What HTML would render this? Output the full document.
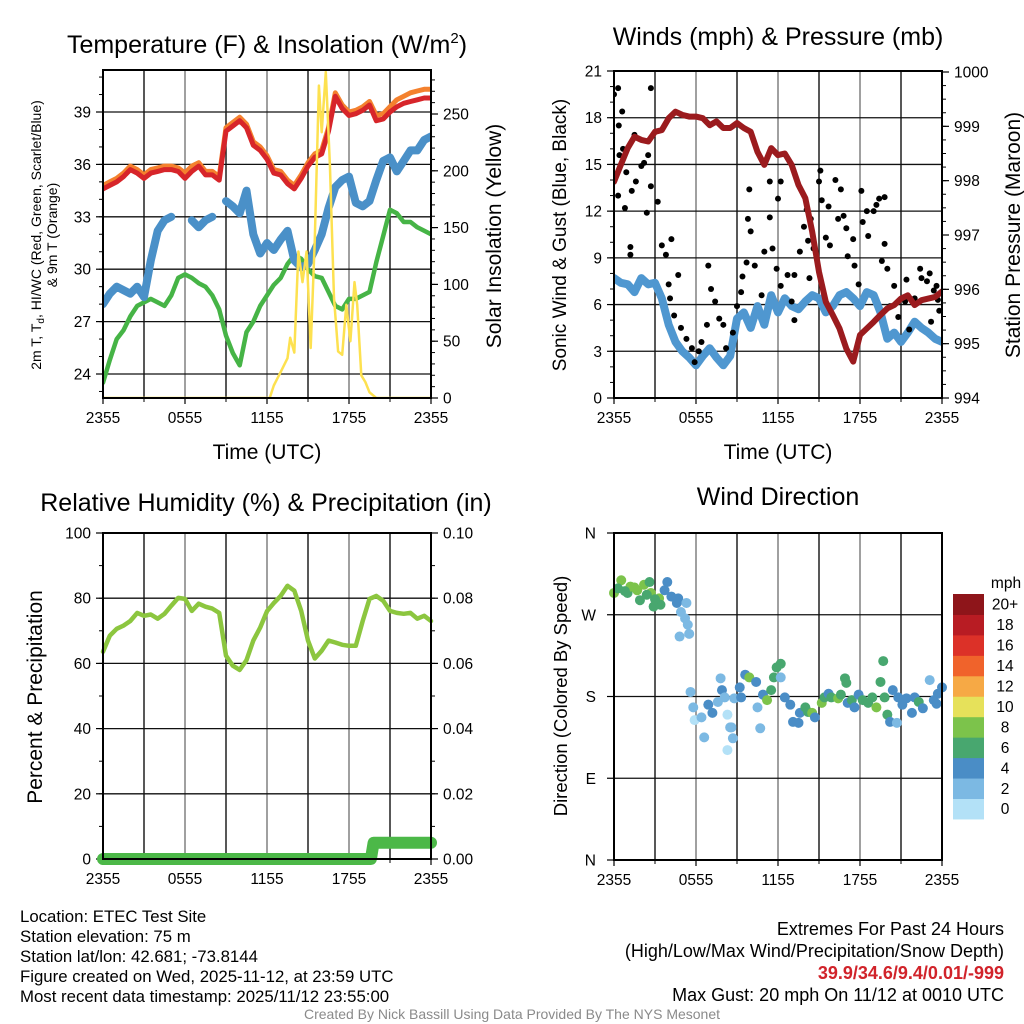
<!DOCTYPE html>
<html><head><meta charset="utf-8">
<style>
html,body{margin:0;padding:0;background:#fff;}
svg{display:block;font-family:"Liberation Sans",Arial,sans-serif;}
</style></head>
<body>
<svg id="fig" width="1024" height="1024" viewBox="0 0 1024 1024" xmlns="http://www.w3.org/2000/svg">
<rect width="1024" height="1024" fill="#fff"/>
<g id="layer"></g>
<text x="267" y="53" font-size="25" text-anchor="middle">Temperature (F) &amp; Insolation (W/m<tspan font-size="15" dy="-10">2</tspan><tspan dy="10">)</tspan></text>
<text x="778" y="45" font-size="25" text-anchor="middle">Winds (mph) &amp; Pressure (mb)</text>
<text x="266" y="511" font-size="25" text-anchor="middle">Relative Humidity (%) &amp; Precipitation (in)</text>
<text x="778" y="505" font-size="25" text-anchor="middle">Wind Direction</text>
<text x="267" y="459" font-size="21" text-anchor="middle">Time (UTC)</text>
<text x="778" y="459" font-size="21" text-anchor="middle">Time (UTC)</text>
<text transform="translate(41,235) rotate(-90)" font-size="14" text-anchor="middle">2m T, T<tspan font-size="10" dy="3">d</tspan><tspan dy="-3">, HI/WC (Red, Green, Scarlet/Blue)</tspan></text>
<text transform="translate(57,235) rotate(-90)" font-size="14" text-anchor="middle">&amp; 9m T (Orange)</text>
<text transform="translate(501,236) rotate(-90)" font-size="21" text-anchor="middle">Solar Insolation (Yellow)</text>
<text transform="translate(566,235) rotate(-90)" font-size="19" text-anchor="middle">Sonic Wind &amp; Gust (Blue, Black)</text>
<text transform="translate(1020,235) rotate(-90)" font-size="21" text-anchor="middle">Station Pressure (Maroon)</text>
<text transform="translate(42,697) rotate(-90)" font-size="21" text-anchor="middle">Percent &amp; Precipitation</text>
<text transform="translate(567,696) rotate(-90)" font-size="18.5" text-anchor="middle">Direction (Colored By Speed)</text>
<g font-size="16.8">
<text x="20" y="922">Location: ETEC Test Site</text>
<text x="20" y="942">Station elevation: 75 m</text>
<text x="20" y="962">Station lat/lon: 42.681; -73.8144</text>
<text x="20" y="982">Figure created on Wed, 2025-11-12, at 23:59 UTC</text>
<text x="20" y="1002">Most recent data timestamp: 2025/11/12 23:55:00</text>
</g>
<g font-size="18" text-anchor="end">
<text x="1004" y="935">Extremes For Past 24 Hours</text>
<text x="1004" y="957">(High/Low/Max Wind/Precipitation/Snow Depth)</text>
<text x="1004" y="979" font-weight="bold" fill="#d1232a">39.9/34.6/9.4/0.01/-999</text>
<text x="1004" y="1001">Max Gust: 20 mph On 11/12 at 0010 UTC</text>
</g>
<text x="512" y="1019" font-size="14" fill="#8a8a8a" text-anchor="middle">Created By Nick Bassill Using Data Provided By The NYS Mesonet</text>
</svg>
<script>
const hours = [0,0.5,1,1.5,2,2.5,3,3.5,4,4.5,5,5.5,6,6.5,7,7.5,8,8.5,9,9.5,10,10.5,11,11.5,12,12.5,13,13.5,14,14.5,15,15.5,16,16.5,17,17.5,18,18.5,19,19.5,20,20.5,21,21.5,22,22.5,23,23.5,24];
const tempRed = [34.6,34.8,35.0,35.3,35.7,35.5,35.2,35.5,35.6,35.7,35.7,35.6,35.2,35.6,35.9,35.4,35.4,35.1,37.9,38.2,38.5,38.1,37.1,36.8,36.3,35.5,35.4,34.9,34.6,35.2,35.9,36.4,36.6,37.9,39.9,39.2,38.8,38.9,39.1,39.4,38.5,38.6,39.0,39.3,39.5,39.6,39.7,39.8,39.8];
const temp9m = [34.8,35.0,35.2,35.5,35.9,35.7,35.4,35.7,35.8,35.9,35.9,35.8,35.5,35.9,36.1,35.6,35.6,35.3,38.1,38.4,38.7,38.3,37.3,37.0,36.5,35.7,35.6,35.1,34.8,35.4,36.1,36.6,36.8,38.1,40.1,39.4,39.0,39.1,39.3,39.6,38.8,38.9,39.3,39.7,39.9,40.1,40.2,40.3,40.3];
const heatIndex = [28.0,28.6,29.0,28.8,28.6,29.0,28.4,30.5,32.2,32.8,33.0,null,null,32.8,32.4,32.8,33.0,null,33.9,33.6,33.2,34.5,32.0,30.9,31.5,31.1,31.7,32.2,30.5,30.1,30.3,31.1,32.0,33.5,34.7,35.1,35.3,33.8,33.6,33.9,35.1,36.2,36.4,35.6,36.2,36.8,36.8,37.4,37.6];
const dewPoint = [23.5,24.8,26.0,26.5,27.3,27.9,28.1,28.3,28.1,27.9,28.5,29.5,29.7,29.5,29.2,29.0,28.5,27.7,26.2,25.2,24.5,26.4,27.0,27.9,28.5,29.1,29.5,30.3,30.8,30.6,30.0,29.6,29.5,28.7,27.9,27.7,28.3,28.3,28.5,28.7,30.4,31.9,33.4,33.2,32.7,32.7,32.4,32.2,32.0];
const solarHours = [0,12.2,12.5,13,13.5,13.7,14,14.3,14.6,14.9,15.2,15.5,15.8,16.0,16.3,16.6,16.9,17.2,17.5,17.8,18.1,18.4,18.6,18.9,19.2,19.5,20,24];
const solar = [0,0,11,23,35,53,40,129,102,129,44,140,275,234,287,205,88,41,38,82,50,102,82,20,14,5,0,0];
const tempTicks = [24,27,30,33,36,39];
const solarTicks = [0,50,100,150,200,250];
const timeLabels = ["2355","0555","1155","1755","2355"];

const windSpeed = [7.7,7.4,7.3,6.8,7.7,7.3,7.4,6.4,4.7,3.6,3.0,2.6,2.1,2.7,3.2,2.6,2.1,2.7,5.1,5.5,4.5,5.9,4.7,6.6,5.5,6.4,5.9,5.7,6.2,6.6,6.4,5.5,5.9,6.6,6.8,6.4,5.9,6.8,6.6,5.5,3.8,4.2,3.6,4.2,4.9,4.5,4.2,3.8,3.6];
const pressure = [997.98,998.29,998.6,998.81,998.75,998.72,998.9,998.93,999.15,999.27,999.21,999.18,999.18,999.15,999.02,999.09,998.97,998.97,999.06,998.97,998.9,998.53,998.29,998.6,998.47,998.5,998.29,997.92,997.68,997.06,996.32,995.77,995.53,995.28,994.91,994.67,995.16,995.28,995.4,995.53,995.65,995.71,995.83,995.89,995.71,995.8,995.83,995.86,995.96];
const gustHours = [0,0.3,0.35,0.6,0.4,0.66,0.9,0.3,0.8,1.3,1.6,2.0,2.2,2.5,2.7,2.7,3.2,2.4,1.5,1.2,1.2,3.5,3.8,4.2,4.0,4.7,4.1,4.4,4.9,5.3,5.7,6.2,5.9,6.4,6.8,6.9,7.1,7.4,7.7,8.0,8.2,8.7,9.0,9.3,9.4,9.7,9.8,9.9,10.0,10.3,10.8,11.0,11.4,11.4,11.6,11.9,12.2,12.0,12.2,12.7,13.0,13.2,13.2,13.6,13.9,14.1,14.2,14.4,14.6,14.3,15.1,15.0,15.2,15.5,15.7,15.8,16.2,16.4,16.6,16.8,17.0,17.1,17.5,17.6,17.9,18.1,18.2,18.5,18.6,19.0,19.2,19.4,19.8,19.8,19.6,20.0,20.2,20.5,20.8,21.3,21.4,21.6,22.0,22.4,22.5,22.9,23.1,23.4,23.7,23.8,23.2,23.6];
const gusts = [19.5,19.9,17.5,18.4,15.6,16.0,14.5,13.0,12.2,13.3,13.9,14.9,15.1,15.6,19.9,13.6,12.6,11.9,16.9,9.7,9.2,9.8,9.2,10.2,7.3,7.9,6.4,5.3,4.5,3.8,3.2,3.0,2.3,3.6,4.7,8.5,7.0,6.2,5.1,4.7,3.2,4.2,5.9,6.8,7.8,8.7,11.5,13.4,10.7,8.5,6.6,9.4,11.6,13.9,9.6,8.3,13.9,12.8,7.2,7.9,6.2,5.0,7.9,9.4,11.0,12.1,10.1,11.5,9.6,7.7,14.6,13.9,12.7,10.3,12.3,9.8,14.0,11.5,13.4,11.7,10.9,9.1,10.2,8.5,7.3,13.3,11.3,12.0,10.4,12.0,12.4,12.8,12.9,9.9,8.8,8.3,5.9,7.2,5.2,6.2,7.6,4.4,6.4,8.3,7.7,7.5,8.0,6.9,6.3,5.6,4.9,7.2];
const windTicks = [0,3,6,9,12,15,18,21];
const pressureTicks = [994,995,996,997,998,999,1000];

const rh = [63.6,68.5,70.6,71.6,73,75.5,74.6,75,73.7,75.2,77.7,80.1,79.8,76.1,78.3,77.4,76.8,75.5,62.4,59.3,58.0,61,67,71,76,78.5,80.7,83.8,82.3,76.1,67,61.5,63.9,67,66.4,65.7,65.4,65.4,73,79.8,80.7,79.2,76.1,75.5,75.2,75.5,73.7,74.6,73];
const precipHours = [0,19.6,19.8,24];
const precip = [0,0,0.005,0.005];
const rhTicks = [0,20,40,60,80,100];
const precipTicks = ["0.00","0.02","0.04","0.06","0.08","0.10"];

const dirHours = [0.0,0.53,0.29,0.99,1.2,1.7,1.9,2.2,2.6,2.7,2.9,3.3,3.4,3.9,3.7,4.2,4.7,4.6,5.3,4.9,5.2,5.4,4.8,5.5,5.6,5.8,5.9,6.4,6.6,6.9,7.2,7.6,7.8,7.9,8.1,8.3,8.5,8.3,8.7,8.6,8.8,9.2,9.3,9.6,9.9,10.4,10.7,10.5,10.9,11.2,11.5,11.7,11.9,12.2,12.2,12.5,12.9,13.1,13.5,13.6,14.0,14.2,14.5,14.7,15.2,15.4,15.7,15.9,16.4,16.6,16.9,17.0,17.1,17.4,17.6,17.9,18.2,18.6,18.9,19.2,19.5,19.7,19.8,20.0,20.2,20.4,20.7,20.8,21.1,21.4,21.8,22.0,22.3,22.6,23.1,23.4,23.7,24.0,23.6,0.8,1.5,2.4,3.0];
const dirDeg = [294,308,299,294,301,297,286,303,306,294,279,288,281,306,297,290,288,283,283,273,266,259,246,249,185,168,154,157,135,171,162,174,200,187,179,160,146,121,134,146,178,190,179,204,201,196,145,168,182,176,187,201,212,216,201,179,171,152,151,162,168,163,162,157,173,179,183,179,178,182,200,195,173,176,168,182,176,173,179,168,196,219,179,160,152,187,151,179,171,178,162,179,174,167,198,176,183,190,172,296,300,292,287];
const dirSpeed = [9,9,7,7,9,9,7,9,7,9,7,9,7,5,5,5,5,5,3,3,3,3,3,3,3,3,1,3,3,5,5,3,3,5,3,1,3,1,3,3,3,5,5,5,9,5,3,3,5,9,7,7,7,7,3,5,5,5,5,5,7,7,9,5,9,7,5,7,9,7,7,7,5,7,5,5,7,7,7,9,7,7,7,7,5,5,3,5,5,5,5,5,7,5,3,5,5,5,5,7,9,7,7];
const dirLabels = ["N","W","S","E","N"];
const speedBinLabels = ["0","2","4","6","8","10","12","14","16","18","20+"];
const speedColors = ["#b3e1f7","#7cb9e3","#4a8dc6","#48a76f","#7cc34b","#e6e15a","#f6a945","#f0632b","#dc3128","#b81c23","#8e151a"];

const NS="http://www.w3.org/2000/svg";
const layer=document.getElementById('layer');
function mk(tag,attrs,parent){const e=document.createElementNS(NS,tag);for(const k in attrs)e.setAttribute(k,attrs[k]);(parent||layer).appendChild(e);return e;}
function lin(d0,d1,r0,r1){return v=>r0+(v-d0)*(r1-r0)/(d1-d0);}
function pathFrom(xs,ys,fx,fy){let d="",pen=false;for(let i=0;i<xs.length;i++){if(ys[i]===null||ys[i]===undefined){pen=false;continue;}d+=(pen?"L":"M")+fx(xs[i]).toFixed(1)+","+fy(ys[i]).toFixed(1);pen=true;}return d;}
const TF=15.5;

function frame(name,x0,x1,y0,y1,fx){
  const g=mk('g',{});
  
  
  for(let h=3;h<24;h+=3){mk('line',{x1:fx(h),x2:fx(h),y1:y0,y2:y1,stroke:(h%6===0?'#777':'#111'),'stroke-width':1.4},g);}
  for(let i=0;i<5;i++){
    const h=i*6;const t=mk('text',{x:fx(h),y:y1+25,'font-size':TF,'text-anchor':'middle'});
    t.textContent=timeLabels[i];
    
    
    mk('line',{x1:fx(h),x2:fx(h),y1:y1,y2:y1+6,stroke:'#000','stroke-width':1.2});
  }
  for(let h=0;h<=24;h+=3){mk('line',{x1:fx(h),x2:fx(h),y1:y1,y2:y1+4,stroke:'#000','stroke-width':1});}
  return g;
}
function box(name,x0,x1,y0,y1){
  const r=mk('rect',{x:x0,y:y0,width:x1-x0,height:y1-y0,fill:'none',stroke:'#000','stroke-width':2});
  
  
}
function hgrid(ys,x0,x1){ys.forEach(y=>mk('line',{x1:x0,x2:x1,y1:y,y2:y,stroke:'#111','stroke-width':1.3}));}
function leftTicks(name,vals,labels,fy,x0,minorStep,lo,hi){
  vals.forEach((v,i)=>{mk('line',{x1:x0-7,x2:x0,y1:fy(v),y2:fy(v),stroke:'#000','stroke-width':1.2});
    const t=mk('text',{x:x0-12,y:fy(v)+5.5,'font-size':TF,'text-anchor':'end'});t.textContent=labels[i];
    
    });
  if(minorStep)for(let v=lo;v<=hi+1e-9;v+=minorStep)mk('line',{x1:x0-4,x2:x0,y1:fy(v),y2:fy(v),stroke:'#000','stroke-width':1});
}
function rightTicks(name,vals,labels,fy,x1,minorStep,lo,hi){
  vals.forEach((v,i)=>{mk('line',{x1:x1,x2:x1+7,y1:fy(v),y2:fy(v),stroke:'#000','stroke-width':1.2});
    const t=mk('text',{x:x1+12,y:fy(v)+5.5,'font-size':TF,'text-anchor':'start'});t.textContent=labels[i];
    
    });
  if(minorStep)for(let v=lo;v<=hi+1e-9;v+=minorStep)mk('line',{x1:x1,x2:x1+4,y1:fy(v),y2:fy(v),stroke:'#000','stroke-width':1});
}

(function(){
  const x0=103,x1=431,y0=70,y1=398;
  const fx=lin(0,24,x0,x1), fy=lin(24,39,374,112), fs=lin(0,250,398,114);
  frame('temp',x0,x1,y0,y1,fx);
  hgrid(tempTicks.map(fy),x0,x1);
  leftTicks('temp',tempTicks,tempTicks.map(String),fy,x0,1,23,41);
  rightTicks('solar',solarTicks,solarTicks.map(String),fs,x1,10,0,280);
  const clip=mk('clipPath',{id:'c1'});mk('rect',{x:x0,y:y0,width:x1-x0,height:y1-y0},clip);
  const g=mk('g',{'clip-path':'url(#c1)',fill:'none','stroke-linejoin':'round','stroke-linecap':'round'});
  let p;
  p=mk('path',{d:pathFrom(hours,dewPoint,fx,fy),stroke:'#46b446','stroke-width':4.5},g);
  
  p=mk('path',{d:pathFrom(hours,heatIndex,fx,fy),stroke:'#4a90c8','stroke-width':8},g);
  
  p=mk('path',{d:pathFrom(hours,temp9m,fx,fy),stroke:'#f4812e','stroke-width':5},g);
  
  p=mk('path',{d:pathFrom(hours,tempRed,fx,fy),stroke:'#d7252a','stroke-width':5},g);
  
  p=mk('path',{d:pathFrom(solarHours,solar,fx,fs),stroke:'#fde150','stroke-width':2.5},g);
  
  box('temp',x0,x1,y0,y1);
})();

(function(){
  const x0=614,x1=942,y0=71,y1=398;
  const fx=lin(0,24,x0,x1), fy=lin(0,21,398,71), fp=lin(994,1000,398,72);
  frame('winds',x0,x1,y0,y1,fx);
  hgrid(windTicks.slice(1,7).map(fy),x0,x1);
  leftTicks('wind',windTicks,windTicks.map(String),fy,x0,1,0,21);
  rightTicks('pressure',pressureTicks,pressureTicks.map(String),fp,x1,0.25,994,1000);
  const clip=mk('clipPath',{id:'c2'});mk('rect',{x:x0,y:y0,width:x1-x0,height:y1-y0},clip);
  const g=mk('g',{'clip-path':'url(#c2)','stroke-linejoin':'round','stroke-linecap':'round'});
  let p=mk('path',{d:pathFrom(hours,windSpeed,fx,fy),stroke:'#4f97d0','stroke-width':8,fill:'none'},g);
  
  const gg=mk('g',{fill:'#000'},g);
  
  for(let i=0;i<gusts.length;i++){const c=mk('circle',{cx:fx(gustHours[i]),cy:fy(gusts[i]),r:3},gg);
    }
  p=mk('path',{d:pathFrom(hours,pressure,fx,fp),stroke:'#9b1b1e','stroke-width':6,fill:'none'},g);
  
  box('winds',x0,x1,y0,y1);
})();

(function(){
  const x0=103,x1=431,y0=533,y1=859;
  const fx=lin(0,24,x0,x1), fy=lin(0,100,859,533), fq=lin(0,0.1,859,533);
  frame('humidity',x0,x1,y0,y1,fx);
  hgrid(rhTicks.slice(1,5).map(fy),x0,x1);
  leftTicks('humidity',rhTicks,rhTicks.map(String),fy,x0,10,0,100);
  rightTicks('precip',[0,0.02,0.04,0.06,0.08,0.1],precipTicks,fq,x1,0.01,0,0.11);
  let p=mk('path',{d:pathFrom(precipHours,precip,fx,fq),stroke:'#4cb848','stroke-width':12,fill:'none','stroke-linecap':'round','stroke-linejoin':'round'});
  
  p=mk('path',{d:pathFrom(hours,rh,fx,fy),stroke:'#8cc63f','stroke-width':4.5,fill:'none','stroke-linecap':'round','stroke-linejoin':'round'});
  
  box('humidity',x0,x1,y0,y1);
})();

(function(){
  const x0=614,x1=942,y0=533,y1=860;
  const fx=lin(0,24,x0,x1), fy=lin(0,360,860,533);
  frame('direction',x0,x1,y0,y1,fx);
  hgrid([270,180,90].map(fy),x0,x1);
  [360,270,180,90,0].forEach((d,i)=>{mk('line',{x1:x0-7,x2:x0,y1:fy(d),y2:fy(d),stroke:'#000','stroke-width':1.2});
    const t=mk('text',{x:x0-18,y:fy(d)+5.5,'font-size':TF,'text-anchor':'end'});t.textContent=dirLabels[i];
    });
  const gg=mk('g',{});
  
  for(let i=0;i<dirDeg.length;i++){const b=Math.min(10,Math.floor(dirSpeed[i]/2));
    const c=mk('circle',{cx:fx(dirHours[i]),cy:fy(dirDeg[i]),r:5,fill:speedColors[b]},gg);
    }
  box('direction',x0,x1,y0,y1);
  const cb=mk('g',{});
  
  const top=594,bh=20.45;
  for(let i=0;i<11;i++){const y=top+(10-i)*bh;
    mk('rect',{x:953,y:y,width:31,height:bh+0.5,fill:speedColors[i]},cb);
    const t=mk('text',{x:1005,y:y+bh/2+5.5,'font-size':TF,'text-anchor':'middle'},cb);t.textContent=speedBinLabels[i];
    }
  const u=mk('text',{x:1006,y:588,'font-size':TF,'text-anchor':'middle'},cb);u.textContent='mph';
  
})();
</script>
</body></html>
